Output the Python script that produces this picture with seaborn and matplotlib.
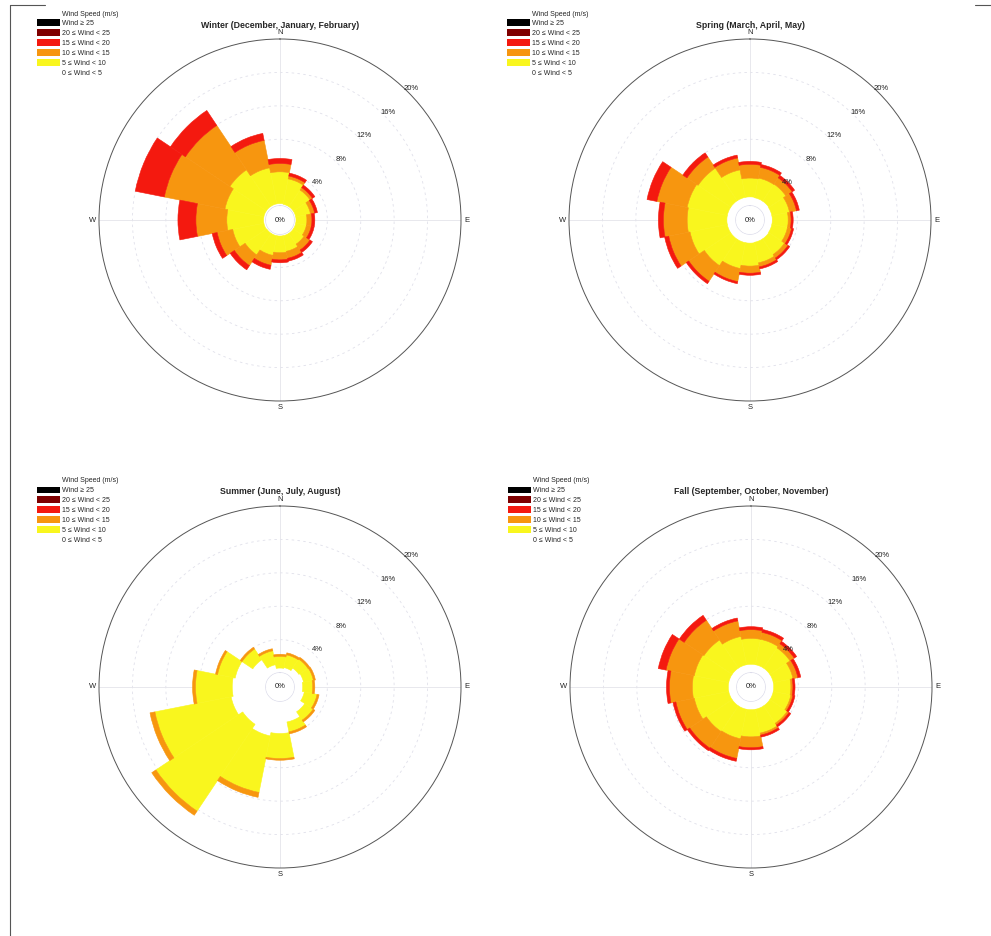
import numpy as np
import seaborn as sns
import matplotlib.pyplot as plt
from matplotlib.patches import Patch
from matplotlib.lines import Line2D

# 16 compass sectors, frequencies in % per wind-speed class
directions = ["N", "NNE", "NE", "ENE", "E", "ESE", "SE", "SSE",
              "S", "SSW", "SW", "WSW", "W", "WNW", "NW", "NNW"]

winter_0_5 = [0.3, 0.25, 0.25, 0.25, 0.25, 0.25, 0.25, 0.25, 0.25, 0.25, 0.25, 0.3, 0.3, 0.3, 0.3, 0.3]
winter_5_10 = [3.8, 3.1, 2.4, 1.8, 1.3, 1.3, 1.55, 1.9, 2.0, 2.4, 3.1, 3.8, 4.4, 4.75, 5.25, 4.4]
winter_10_15 = [1.0, 0.35, 0.35, 0.5, 0.6, 0.6, 0.85, 0.85, 0.85, 1.2, 1.55, 1.9, 3.7, 7.4, 6.4, 3.35]
winter_15_20 = [0.6, 0.35, 0.35, 0.35, 0.35, 0.35, 0.35, 0.35, 0.35, 0.5, 0.6, 0.6, 2.15, 3.55, 2.15, 0.85]

spring_0_5 = [1.1, 1.05, 1.05, 1.0, 1.0, 1.0, 1.05, 1.05, 1.1, 1.1, 1.1, 1.1, 1.1, 1.1, 1.1, 1.1]
spring_5_10 = [2.25, 2.4, 2.45, 2.15, 1.9, 1.9, 2.25, 2.5, 2.75, 3.15, 3.8, 4.55, 4.75, 4.9, 4.7, 3.35]
spring_10_15 = [1.65, 1.3, 0.9, 0.85, 0.35, 0.5, 0.5, 0.5, 0.85, 1.6, 2.25, 2.6, 2.85, 3.7, 1.6, 1.45]
spring_15_20 = [0.35, 0.35, 0.35, 0.35, 0.25, 0.25, 0.25, 0.25, 0.25, 0.25, 0.35, 0.5, 0.6, 1.2, 0.6, 0.35]

summer_0_5 = [0.6, 0.7, 1.05, 1.2, 1.05, 1.3, 1.9, 2.6, 3.9, 4.3, 3.7, 4.3, 4.05, 3.8, 2.25, 1.05]
summer_5_10 = [1.4, 1.55, 1.3, 1.2, 1.2, 1.55, 1.2, 1.2, 3.0, 6.9, 12.5, 9.3, 4.4, 2.15, 1.55, 1.7]
summer_10_15 = [0.25, 0.25, 0.25, 0.25, 0.25, 0.25, 0.25, 0.25, 0.2, 0.6, 0.6, 0.6, 0.35, 0.25, 0.25, 0.25]

fall_0_5 = [1.05, 1.05, 1.05, 1.05, 1.05, 1.05, 1.05, 1.05, 1.05, 1.05, 1.05, 1.05, 1.05, 1.05, 1.05, 1.05]
fall_5_10 = [3.1, 3.1, 2.9, 2.4, 2.05, 2.15, 2.5, 2.9, 3.25, 3.6, 3.7, 4.2, 4.3, 4.2, 4.05, 3.45]
fall_10_15 = [1.05, 0.85, 0.6, 0.6, 0.25, 0.25, 0.25, 0.25, 1.3, 2.4, 2.4, 2.25, 2.75, 3.45, 2.85, 1.9]
fall_15_20 = [0.35, 0.35, 0.35, 0.35, 0.25, 0.25, 0.25, 0.25, 0.25, 0.35, 0.35, 0.35, 0.35, 0.95, 0.7, 0.35]

titles = ["Winter (December, January, February)", "Spring (March, April, May)",
          "Summer (June, July, August)", "Fall (September, October, November)"]

legend_labels = ["Wind \u2265 25", "20 \u2264 Wind < 25", "15 \u2264 Wind < 20",
                 "10 \u2264 Wind < 15", "5 \u2264 Wind < 10", "0 \u2264 Wind < 5"]
ring_ticks = [4, 8, 12, 16, 20]
compass = ["N", "E", "S", "W"]

sns.set_theme(style="white")
plt.rcParams["font.family"] = ["Liberation Sans", "DejaVu Sans"]

# white, yellow, orange, red, dark red, black
class_colors = sns.color_palette(["#ffffff", "#f9f61e", "#f7960f", "#f4190f", "#7f0000", "#000000"])

seasons = [
    [winter_0_5, winter_5_10, winter_10_15, winter_15_20],
    [spring_0_5, spring_5_10, spring_10_15, spring_15_20],
    [summer_0_5, summer_5_10, summer_10_15],
    [fall_0_5, fall_5_10, fall_10_15, fall_15_20],
]

W, H = 991, 936
R = 181
centers = [(280, 220), (750, 220), (280, 687), (751, 687)]

fig = plt.figure(figsize=(W / 100, H / 100), dpi=100)

theta = np.deg2rad(np.arange(len(directions)) * 22.5)
width = 2 * np.pi / len(directions)

for k, (cx, cy) in enumerate(centers):
    ax = fig.add_axes([(cx - R) / W, (H - cy - R) / H, 2 * R / W, 2 * R / H], projection="polar")
    ax.set_theta_zero_location("N")
    ax.set_theta_direction(-1)
    ax.set_ylim(0, 20)
    ax.set_rorigin(-1.67)
    ax.grid(False)
    ax.set_yticks([])
    ax.set_xticks([])
    ax.patch.set_edgecolor("none")

    bottom = np.zeros(len(directions))
    for i, vals in enumerate(seasons[k]):
        ax.bar(theta, vals, width=width, bottom=bottom, color=class_colors[i],
               edgecolor=class_colors[i], linewidth=0.4, align="center", zorder=3)
        bottom = bottom + np.array(vals)

    # faint rings and axes lines
    circ = np.linspace(0, 2 * np.pi, 400)
    for r in ring_ticks[:-1]:
        ax.plot(circ, np.full_like(circ, r), color="#e0e0ea", lw=0.6, ls=(0, (3, 4)), zorder=1)
    for a in [0, 90, 180, 270]:
        ax.plot([np.deg2rad(a)] * 2, [0, 20], color="#e4e4ea", lw=0.6, zorder=1)
    ax.plot(circ, np.full_like(circ, 0.05), color="#dcdcea", lw=0.6, zorder=4)

    for v in ring_ticks:
        ax.text(np.deg2rad(45), v + 0.6, f"{v}%", fontsize=5.5, ha="center", va="center",
                color="#222222", zorder=5)
    ax.text(0.5, 0.5, "0%", transform=ax.transAxes, fontsize=5.5, ha="center", va="center",
            color="#222222", zorder=5)
    for a, lab in zip([0, 90, 180, 270], compass):
        ax.text(np.deg2rad(a), 20.75, lab, fontsize=5.5, ha="center", va="center",
                color="#222222", clip_on=False)

    for name, sp in ax.spines.items():
        if name == "polar":
            sp.set_color("#555555")
            sp.set_linewidth(0.7)
        else:
            sp.set_visible(False)
            sp.set_linewidth(0)

    ax.text(0.5, 1 + 14 / (2 * R), titles[k], transform=ax.transAxes,
            fontsize=6.3, fontweight="bold", ha="center", va="center")

    # legend (top-left of each panel)
    ox = cx - 280
    oy = cy - 220
    handles = [Patch(facecolor=c, edgecolor="none") for c in class_colors[::-1]]
    fig.text((62 + ox) / W, 1 - (14 + oy) / H, "Wind Speed (m/s)", fontsize=5, va="center")
    ax.legend(handles, legend_labels, loc="upper left",
              bbox_to_anchor=((37 + ox) / W, 1 - (19.5 + oy) / H), bbox_transform=fig.transFigure,
              frameon=False, fontsize=5, handlelength=3.3, handleheight=1.1,
              handletextpad=0.3, labelspacing=0.33, borderpad=0, borderaxespad=0)

# page border fragments
fig.add_artist(Line2D([10 / W, 10 / W], [1 - 5 / H, 0], color="#555555", lw=0.8))
fig.add_artist(Line2D([10 / W, 45 / W], [1 - 5 / H, 1 - 5 / H], color="#555555", lw=0.8))
fig.add_artist(Line2D([975 / W, 991 / W], [1 - 5 / H, 1 - 5 / H], color="#555555", lw=0.8))

plt.savefig("out.png", dpi=100)
